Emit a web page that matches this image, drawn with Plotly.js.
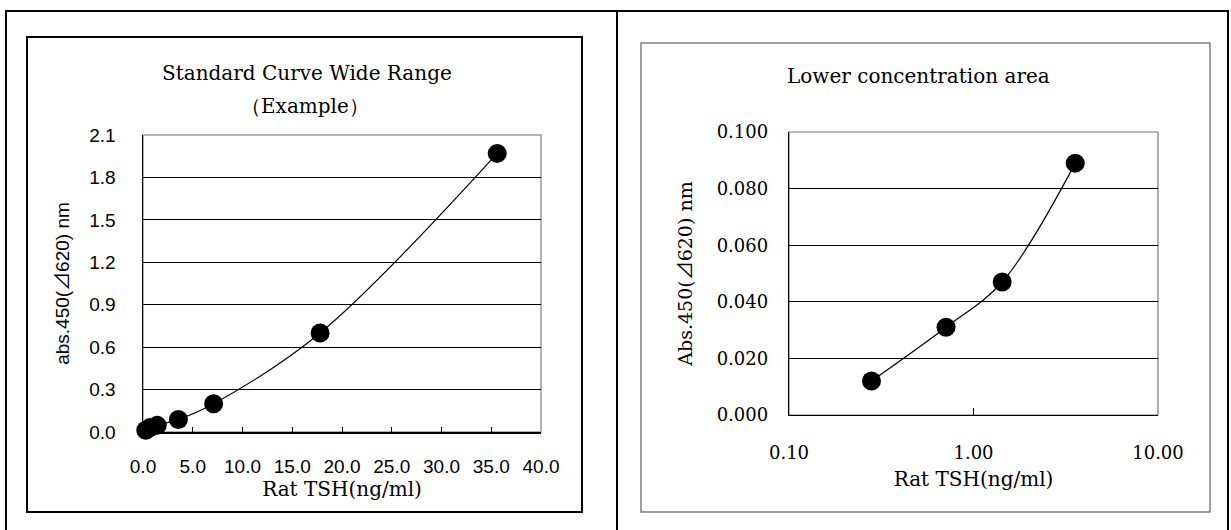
<!DOCTYPE html>
<html>
<head>
<meta charset="utf-8">
<script src="https://cdn.plot.ly/plotly-3.0.1.min.js"></script>
<style>
  html, body { margin: 0; padding: 0; background: #fff; }
  #chart { width: 1231px; height: 530px; }
</style>
</head>
<body>
<div id="chart"></div>
<script>
// ---- Data ----
const stdConc = [0.28, 0.71, 1.43, 3.56, 7.1, 17.8, 35.6];      // Rat TSH ng/ml, wide range
const stdAbs  = [0.012, 0.031, 0.047, 0.089, 0.20, 0.70, 1.97]; // abs.450(⊿620)
const lowConc = [0.28, 0.71, 1.43, 3.56];                        // lower concentration area
const lowAbs  = [0.012, 0.031, 0.047, 0.089];

const leftXTicks  = [0, 5, 10, 15, 20, 25, 30, 35, 40];
const leftYTicks  = [0, 0.3, 0.6, 0.9, 1.2, 1.5, 1.8, 2.1];
const rightXTicks = [0.1, 1, 10];
const rightXText  = ['0.10', '1.00', '10.00'];
const rightYTicks = [0, 0.02, 0.04, 0.06, 0.08, 0.1];

const leftTitle1 = 'Standard Curve Wide Range';
const leftTitle2 = '（Example）';
const rightTitle = 'Lower concentration area';
const xTitle = 'Rat TSH(ng/ml)';
const CJK = "font-family:'Noto Sans CJK JP'";
const leftYTitle = 'abs.450(<span style="' + CJK + '">⊿</span>620) nm';
const rightYTitle = 'Abs.450(<span style="' + CJK + '">⊿</span>620) nm';

// ---- Layout helpers (pixel -> paper) ----
const W = 1231, H = 530;
const px = x => x / W;
const py = y => 1 - y / H;

const SERIF = '"DejaVu Serif", "Liberation Serif", serif';
const SANS = '"Liberation Sans", Arial, sans-serif';

const traces = [
  {
    x: stdConc, y: stdAbs, xaxis: 'x', yaxis: 'y',
    type: 'scatter', mode: 'lines+markers',
    line: { color: '#000', width: 1.2, shape: 'spline', smoothing: 1 },
    marker: { color: '#000', size: 19, symbol: 'circle' },
    cliponaxis: false, hoverinfo: 'x+y'
  },
  {
    x: lowConc, y: lowAbs, xaxis: 'x2', yaxis: 'y2',
    type: 'scatter', mode: 'lines+markers',
    line: { color: '#000', width: 1.2, shape: 'spline', smoothing: 1 },
    marker: { color: '#000', size: 19, symbol: 'circle' },
    cliponaxis: false, hoverinfo: 'x+y'
  }
];

const layout = {
  width: W, height: H,
  margin: { l: 0, r: 0, t: 0, b: 0 },
  paper_bgcolor: '#fff', plot_bgcolor: '#fff',
  showlegend: false,
  xaxis: {
    domain: [px(143), px(541)], anchor: 'y',
    range: [0, 40], tickvals: leftXTicks, tickformat: '.1f',
    showgrid: false, zeroline: false,
    showline: true, linecolor: '#000', linewidth: 1.5,
    ticks: 'inside', ticklen: 5, tickcolor: '#000', tickwidth: 1,
    ticklabelstandoff: 17,
    tickfont: { family: SANS, size: 19, color: '#000' },
    title: { text: xTitle, font: { family: SERIF, size: 20, color: '#000' }, standoff: 0 }
  },
  yaxis: {
    domain: [py(432), py(135)], anchor: 'x',
    range: [0, 2.1], tickvals: leftYTicks, tickformat: '.1f',
    showgrid: true, gridcolor: '#000', gridwidth: 1,
    zeroline: false,
    showline: true, linecolor: '#000', linewidth: 1.5,
    ticks: '', ticklabelstandoff: 22,
    tickfont: { family: SANS, size: 19, color: '#000' },
    title: { text: leftYTitle, font: { family: SANS, size: 19, color: '#000' }, standoff: 14 }
  },
  xaxis2: {
    domain: [px(789), px(1158)], anchor: 'y2',
    type: 'log', range: [-1, 1], tickvals: rightXTicks, ticktext: rightXText,
    showgrid: false, zeroline: false,
    showline: true, linecolor: '#000', linewidth: 1.2,
    ticks: 'inside', ticklen: 7, tickcolor: '#000', tickwidth: 1,
    ticklabelstandoff: 21,
    tickfont: { family: SERIF, size: 18, color: '#000' },
    title: { text: xTitle, font: { family: SERIF, size: 20, color: '#000' }, standoff: 10 }
  },
  yaxis2: {
    domain: [py(415), py(132)], anchor: 'x2',
    range: [0, 0.1], tickvals: rightYTicks, tickformat: '.3f',
    showgrid: true, gridcolor: '#000', gridwidth: 1,
    zeroline: false,
    showline: true, linecolor: '#000', linewidth: 1.2,
    ticks: '', ticklabelstandoff: 16,
    tickfont: { family: SERIF, size: 18, color: '#000' },
    title: { text: rightYTitle, font: { family: SERIF, size: 19, color: '#000' }, standoff: 19 }
  },
  shapes: [
    // outer table frame
    { type: 'rect', xref: 'paper', yref: 'paper', x0: px(6), x1: px(1228), y0: py(560), y1: py(11),
      line: { color: '#000', width: 2 }, layer: 'below' },
    { type: 'line', xref: 'paper', yref: 'paper', x0: px(617), x1: px(617), y0: py(560), y1: py(11),
      line: { color: '#000', width: 2 }, layer: 'below' },
    // left chart box
    { type: 'rect', xref: 'paper', yref: 'paper', x0: px(27), x1: px(582), y0: py(512), y1: py(37),
      line: { color: '#000', width: 2 }, layer: 'below' },
    // right chart box
    { type: 'rect', xref: 'paper', yref: 'paper', x0: px(641), x1: px(1210), y0: py(512), y1: py(43),
      line: { color: '#808080', width: 1.5 }, layer: 'below' },
    // plot-area borders (gray top/right)
    { type: 'rect', xref: 'x domain', yref: 'y domain', x0: 0, x1: 1, y0: 0, y1: 1,
      line: { color: '#999', width: 1.5 }, layer: 'below' },
    { type: 'rect', xref: 'x2 domain', yref: 'y2 domain', x0: 0, x1: 1, y0: 0, y1: 1,
      line: { color: '#777', width: 1.2 }, layer: 'below' }
  ],
  annotations: [
    { text: leftTitle1, xref: 'paper', yref: 'paper', x: px(307), y: py(73),
      xanchor: 'center', yanchor: 'middle', showarrow: false,
      font: { family: SERIF, size: 20, color: '#000' } },
    { text: leftTitle2, xref: 'paper', yref: 'paper', x: px(305), y: py(106),
      xanchor: 'center', yanchor: 'middle', showarrow: false,
      font: { family: SERIF, size: 20, color: '#000' } },
    { text: rightTitle, xref: 'paper', yref: 'paper', x: px(918), y: py(76),
      xanchor: 'center', yanchor: 'middle', showarrow: false,
      font: { family: SERIF, size: 20, color: '#000' } }
  ]
};

Plotly.newPlot('chart', traces, layout, { staticPlot: true, displayModeBar: false });
</script>
</body>
</html>
